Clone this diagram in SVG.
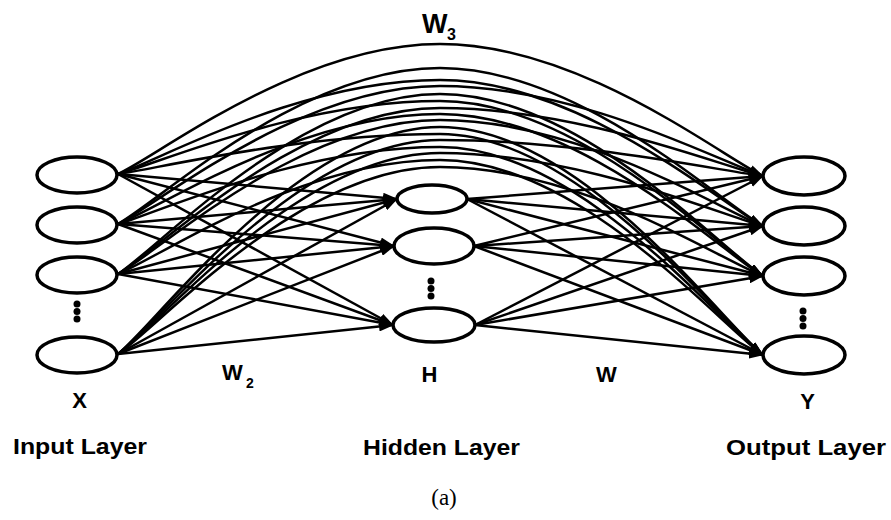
<svg xmlns="http://www.w3.org/2000/svg" width="891" height="520" viewBox="0 0 891 520">
<style>
.edge{fill:none;stroke:#000;stroke-width:2.5;marker-end:url(#arrow)}
.node{fill:#fff;stroke:#000;stroke-width:3.5}
.dot{fill:#000}
.lbl{font-family:"Liberation Sans",Arial,sans-serif;font-weight:bold;fill:#000}
.cap{font-family:"Liberation Serif","Times New Roman",serif;fill:#000}
</style>
<defs>
<marker id="arrow" markerUnits="userSpaceOnUse" markerWidth="15" markerHeight="10" refX="14" refY="5" orient="auto"><path d="M0,0 L15,5 L0,10 z" fill="#000"/></marker>
</defs>
<rect width="891" height="520" fill="#fff"/>
<g id="connectors">
<line class="edge" x1="118" y1="174" x2="397" y2="199"/>
<line class="edge" x1="118" y1="174" x2="394" y2="246"/>
<line class="edge" x1="118" y1="174" x2="393" y2="325"/>
<line class="edge" x1="118" y1="224" x2="397" y2="199"/>
<line class="edge" x1="118" y1="224" x2="394" y2="246"/>
<line class="edge" x1="118" y1="224" x2="393" y2="325"/>
<line class="edge" x1="118" y1="274" x2="397" y2="199"/>
<line class="edge" x1="118" y1="274" x2="394" y2="246"/>
<line class="edge" x1="118" y1="274" x2="393" y2="325"/>
<line class="edge" x1="118" y1="354" x2="397" y2="199"/>
<line class="edge" x1="118" y1="354" x2="394" y2="246"/>
<line class="edge" x1="118" y1="354" x2="393" y2="325"/>
<line class="edge" x1="467" y1="199" x2="763" y2="176"/>
<line class="edge" x1="467" y1="199" x2="763" y2="226"/>
<line class="edge" x1="467" y1="199" x2="763" y2="276"/>
<line class="edge" x1="467" y1="199" x2="763" y2="355"/>
<line class="edge" x1="474" y1="246" x2="763" y2="176"/>
<line class="edge" x1="474" y1="246" x2="763" y2="226"/>
<line class="edge" x1="474" y1="246" x2="763" y2="276"/>
<line class="edge" x1="474" y1="246" x2="763" y2="355"/>
<line class="edge" x1="475" y1="325" x2="763" y2="176"/>
<line class="edge" x1="475" y1="325" x2="763" y2="226"/>
<line class="edge" x1="475" y1="325" x2="763" y2="276"/>
<line class="edge" x1="475" y1="325" x2="763" y2="355"/>
<path class="edge" d="M118,174 C160,155 300,44 440,44 C580,44 721,156 763,176"/>
<path class="edge" d="M118,224 C160,201 300,68 440,68 C580,68 721,203 763,226"/>
<path class="edge" d="M118,174 C160,160 300,80 440,80 C580,80 721,204 763,226"/>
<path class="edge" d="M118,224 C160,203 300,86 440,86 C580,86 721,162 763,176"/>
<path class="edge" d="M118,274 C160,247 300,94 440,94 C580,94 721,249 763,276"/>
<path class="edge" d="M118,174 C160,163 300,101 440,101 C580,101 721,250 763,276"/>
<path class="edge" d="M118,274 C160,249 300,108 440,108 C580,108 721,166 763,176"/>
<path class="edge" d="M118,224 C160,208 300,114 440,114 C580,114 721,252 763,276"/>
<path class="edge" d="M118,274 C160,251 300,120 440,120 C580,120 721,210 763,226"/>
<path class="edge" d="M118,354 C160,320 300,127 440,127 C580,127 721,321 763,355"/>
<path class="edge" d="M118,174 C160,168 300,134 440,134 C580,134 721,322 763,355"/>
<path class="edge" d="M118,354 C160,322 300,140 440,140 C580,140 721,171 763,176"/>
<path class="edge" d="M118,224 C160,212 300,147 440,147 C580,147 721,324 763,355"/>
<path class="edge" d="M118,354 C160,324 300,153 440,153 C580,153 721,215 763,226"/>
<path class="edge" d="M118,274 C160,257 300,160 440,160 C580,160 721,326 763,355"/>
<path class="edge" d="M118,354 C160,326 300,167 440,167 C580,167 721,260 763,276"/>
</g>
<g id="input-layer">
<ellipse id="x1" class="node" cx="77" cy="175" rx="40" ry="18"/>
<ellipse id="x2" class="node" cx="77" cy="225" rx="40" ry="18"/>
<ellipse id="x3" class="node" cx="77" cy="275" rx="40" ry="18"/>
<g id="x-dots"><circle class="dot" cx="77" cy="304" r="3.5"/><circle class="dot" cx="77" cy="311.5" r="3.5"/><circle class="dot" cx="77" cy="319" r="3.5"/></g>
<ellipse id="x4" class="node" cx="77" cy="355" rx="40" ry="18"/>
</g>
<g id="hidden-layer">
<ellipse id="h1" class="node" cx="432" cy="199" rx="35" ry="14"/>
<ellipse id="h2" class="node" cx="434" cy="246" rx="40" ry="18"/>
<g id="h-dots"><circle class="dot" cx="431" cy="281" r="3.5"/><circle class="dot" cx="431" cy="288.5" r="3.5"/><circle class="dot" cx="431" cy="296" r="3.5"/></g>
<ellipse id="h3" class="node" cx="434" cy="325" rx="41" ry="17"/>
</g>
<g id="output-layer">
<ellipse id="y1" class="node" cx="804" cy="176" rx="41" ry="19"/>
<ellipse id="y2" class="node" cx="804" cy="226" rx="41" ry="19"/>
<ellipse id="y3" class="node" cx="804" cy="276" rx="41" ry="19"/>
<g id="y-dots"><circle class="dot" cx="803" cy="311" r="3.5"/><circle class="dot" cx="803" cy="318.5" r="3.5"/><circle class="dot" cx="803" cy="326" r="3.5"/></g>
<ellipse id="y4" class="node" cx="804" cy="355" rx="41" ry="19"/>
</g>
<g id="labels">
<text class="lbl" x="422" y="33" font-size="27">W</text><text class="lbl" x="447" y="40" font-size="16">3</text>
<text class="lbl" x="222" y="380" font-size="22">W</text><text class="lbl" x="246" y="388" font-size="14">2</text>
<text class="lbl" x="429.5" y="382" font-size="22" text-anchor="middle">H</text>
<text class="lbl" x="606.5" y="382" font-size="22" text-anchor="middle">W</text>
<text class="lbl" x="79.5" y="408" font-size="22" text-anchor="middle">X</text>
<text class="lbl" x="807.5" y="409" font-size="22" text-anchor="middle">Y</text>
<text class="lbl" x="13" y="454" font-size="22" textLength="134" lengthAdjust="spacingAndGlyphs">Input Layer</text>
<text class="lbl" x="363" y="455" font-size="22" textLength="157" lengthAdjust="spacingAndGlyphs">Hidden Layer</text>
<text class="lbl" x="726" y="455" font-size="22" textLength="160" lengthAdjust="spacingAndGlyphs">Output Layer</text>
<text class="cap" x="444" y="505" font-size="23" text-anchor="middle">(a)</text>
</g>
</svg>
